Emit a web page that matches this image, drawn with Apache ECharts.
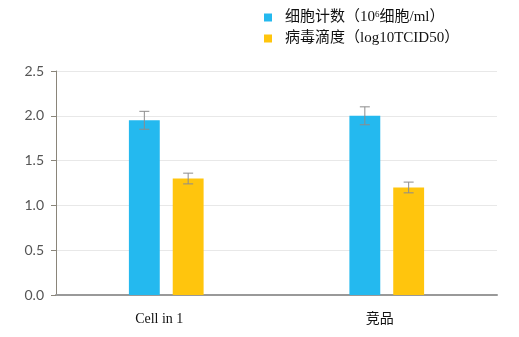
<!DOCTYPE html>
<html>
<head>
<meta charset="utf-8">
<script src="https://cdn.jsdelivr.net/npm/echarts@6/dist/echarts.min.js"></script>
<style>
  html, body { margin: 0; padding: 0; background: #fff; }
  #chart { width: 519px; height: 337px; }
</style>
</head>
<body>
<div id="chart"></div>
<script>
// data
const categories = ['Cell in 1', '竞品'];
const seriesNames = ['细胞计数（10{sup|6}细胞/ml）', '病毒滴度（log10TCID50）'];
const cellCount = [1.95, 2.0];
const cellCountErr = [0.1, 0.1];
const virusTiter = [1.3, 1.2];
const virusTiterErr = [0.06, 0.06];
const colors = ['#24b9ef', '#ffc50d'];

const chart = echarts.init(document.getElementById('chart'));

// error bar drawn via custom series, offset to sit on each bar
function errorBar(values, errs, barIndex) {
  return {
    type: 'custom',
    silent: true,
    z: 10,
    renderItem: function (params, api) {
      const idx = api.value(0);
      const hi = api.coord([idx, api.value(1)]);
      const lo = api.coord([idx, api.value(2)]);
      const bandW = api.size([1, 0])[0];
      const barW = bandW * 0.14;
      const gap = barW * 0.42;
      const off = barIndex === 0 ? -(gap / 2 + barW / 2) : (gap / 2 + barW / 2);
      const x = hi[0] + off;
      const capW = 5;
      const style = { stroke: '#8c8c8c', lineWidth: 1 };
      return {
        type: 'group',
        children: [
          { type: 'line', shape: { x1: x, y1: hi[1], x2: x, y2: lo[1] }, style: style },
          { type: 'line', shape: { x1: x - capW, y1: hi[1], x2: x + capW, y2: hi[1] }, style: style },
          { type: 'line', shape: { x1: x - capW, y1: lo[1], x2: x + capW, y2: lo[1] }, style: style }
        ]
      };
    },
    encode: { x: 0, y: [1, 2] },
    data: values.map((v, i) => [i, v + errs[i], v - errs[i]])
  };
}

chart.setOption({
  animation: false,
  color: colors,
  legend: {
    orient: 'vertical',
    left: 259,
    top: 5,
    icon: 'rect',
    itemWidth: 8,
    itemHeight: 8,
    itemGap: 6,
    data: seriesNames,
    textStyle: {
      fontFamily: '"Liberation Serif", "Noto Sans CJK SC", serif',
      fontSize: 15,
      color: '#111',
      padding: [0, 0, 0, 8],
      rich: {
        sup: {
          fontFamily: '"Liberation Serif", serif',
          fontSize: 9,
          color: '#111',
          verticalAlign: 'top',
          padding: [0, 0, 6, 0]
        }
      }
    }
  },
  grid: {
    left: 56,
    right: 22,
    top: 71,
    bottom: 42
  },
  xAxis: {
    type: 'category',
    data: categories,
    axisLine: { lineStyle: { color: '#999', width: 2 } },
    axisTick: { show: false },
    axisLabel: {
      margin: 17,
      fontFamily: '"Liberation Serif", "Noto Sans CJK SC", serif',
      fontSize: 14,
      color: '#111',
      padding: [0, 14, 0, 0]
    }
  },
  yAxis: {
    type: 'value',
    min: 0,
    max: 2.5,
    interval: 0.5,
    axisLine: { show: true, lineStyle: { color: '#8a857a', width: 1 } },
    axisTick: { show: true, length: 5, lineStyle: { color: '#8a857a' } },
    axisLabel: {
      formatter: v => v.toFixed(1),
      fontFamily: 'Lato, sans-serif',
      fontSize: 14,
      color: '#555',
      margin: 12
    },
    splitLine: { lineStyle: { color: '#e8e8e8' } }
  },
  series: [
    {
      name: seriesNames[0],
      type: 'bar',
      barWidth: '14%',
      barGap: '42%',
      data: cellCount
    },
    {
      name: seriesNames[1],
      type: 'bar',
      barWidth: '14%',
      barGap: '42%',
      data: virusTiter
    },
    errorBar(cellCount, cellCountErr, 0),
    errorBar(virusTiter, virusTiterErr, 1)
  ]
});
</script>
</body>
</html>
